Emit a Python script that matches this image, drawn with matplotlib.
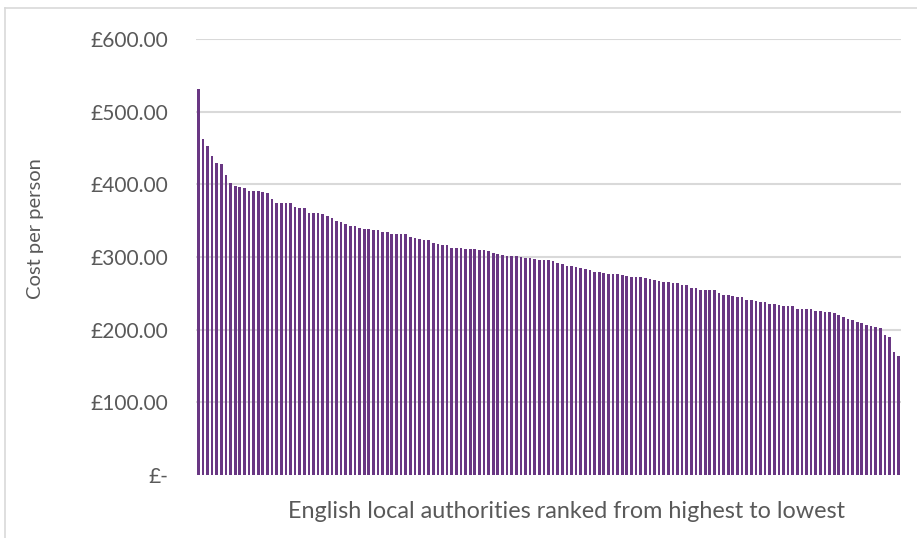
import numpy as np
import matplotlib.pyplot as plt
from matplotlib.lines import Line2D

# cost per person, authorities ranked from highest to lowest
cost_per_person = [
    531, 462, 453, 439, 429, 428, 413, 402, 398, 397, 395, 391, 391, 391, 390,
    388, 380, 375, 375, 374, 374, 369, 368, 368, 361,
    361, 360, 359, 357, 354, 350, 348, 345, 343, 342, 340, 338, 338, 337, 337,
    334, 334, 332, 332, 331, 331, 328, 326, 325,
    324, 324, 319, 318, 317, 316, 313, 313, 312, 311, 311, 311, 310, 310, 308,
    306, 304, 303, 302, 301, 301, 300, 299, 298, 297,
    296, 296, 296, 295, 292, 290, 288, 288, 286, 285, 284, 282, 279, 279, 278,
    277, 277, 277, 275, 274, 273, 272, 272, 271, 270,
    268, 267, 266, 265, 264, 264, 262, 261, 258, 257, 255, 255, 254, 254, 250,
    248, 248, 246, 245, 245, 241, 241, 239, 238, 238,
    236, 235, 234, 233, 233, 232, 229, 229, 229, 228, 226, 226, 224, 224, 223,
    220, 218, 215, 213, 211, 209, 207, 205, 204, 202, 192, 190, 169, 164,
]
y_ticks = [0, 100, 200, 300, 400, 500, 600]
y_tick_labels = ['£-', '£100.00', '£200.00', '£300.00', '£400.00', '£500.00', '£600.00']

bar_color = '#693783'
text_color = '#595959'
grid_color = '#D9D9D9'

plt.rcParams['font.family'] = ['Lato', 'DejaVu Sans']

fig = plt.figure(figsize=(9.17, 5.38), dpi=100)
ax = fig.add_axes([196 / 917, 1 - 475 / 538, 705 / 917, 436 / 538])

x = np.arange(len(cost_per_person))
ax.bar(x, cost_per_person, width=0.58, color=bar_color, zorder=3)

ax.set_xlim(-0.5, len(cost_per_person) - 0.5)
ax.set_ylim(0, 600)
ax.set_yticks(y_ticks)
ax.set_yticklabels(y_tick_labels)
ax.set_xticks([])
ax.tick_params(axis='y', length=0, pad=20, labelsize=15, labelcolor=text_color)

for v in y_ticks[1:]:
    ax.axhline(v, color=grid_color, lw=1.5, zorder=1)
for s in ax.spines.values():
    s.set_visible(False)

fig.text(35 / 917, 1 - 229 / 538, 'Cost per person', rotation=90,
         ha='center', va='center', fontsize=14.5, color=text_color)
fig.text(566 / 917, 1 - 512 / 538, 'English local authorities ranked from highest to lowest',
         ha='center', va='center', fontsize=16.8, color=text_color)

# chart area border (cropped on the right and bottom)
fig.add_artist(Line2D([5 / 917, 5 / 917], [0, 1 - 8 / 538], transform=fig.transFigure,
                      color=grid_color, lw=1.2))
fig.add_artist(Line2D([5 / 917, 1], [1 - 8 / 538, 1 - 8 / 538], transform=fig.transFigure,
                      color=grid_color, lw=1.2))

fig.savefig('out.png', dpi=100)
